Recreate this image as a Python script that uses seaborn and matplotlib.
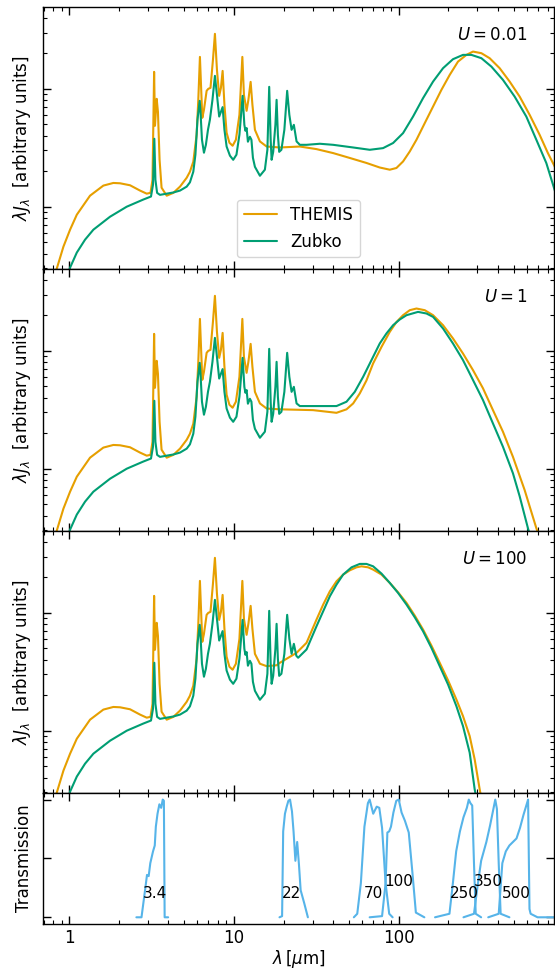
import numpy as np
import pandas as pd
import matplotlib
matplotlib.use("Agg")
import matplotlib.pyplot as plt
import seaborn as sns
from matplotlib.ticker import LogLocator, NullFormatter, FixedLocator, FuncFormatter, NullLocator

# ----------------------
# Data (arbitrary units)
# ----------------------
# near/mid-IR part, identical in the three SED panels
lam_themis_short = [0.789, 0.842, 0.924, 1.014, 1.114, 1.340, 1.614, 1.856, 2.037, 2.343,
                    2.694, 2.958, 3.118, 3.207, 3.28, 3.32, 3.40, 3.46, 3.54, 3.64,
                    3.91, 4.29, 4.71, 5.17, 5.41, 5.67, 5.94, 6.08, 6.22, 6.35,
                    6.43, 6.58, 6.83, 6.99, 7.21, 7.46, 7.67, 7.89, 8.14, 8.34,
                    8.54, 8.76, 9.03, 9.39, 9.82, 10.28, 10.80, 11.25, 11.50, 11.94,
                    12.24, 12.63, 12.95, 13.41]
themis_short = [0.0227, 0.0298, 0.0458, 0.0638, 0.0855, 0.124, 0.151, 0.159, 0.158, 0.152,
                0.137, 0.129, 0.131, 0.169, 1.393, 0.486, 0.823, 0.638, 0.250, 0.145,
                0.124, 0.131, 0.148, 0.176, 0.198, 0.241, 0.408, 0.807, 1.867, 0.889,
                0.568, 0.664, 0.962, 1.0, 1.02, 1.76, 2.93, 1.45, 0.872, 1.02,
                1.42, 0.732, 0.424, 0.349, 0.329, 0.370, 0.602, 1.867, 0.889, 0.651,
                0.807, 1.146, 0.732, 0.449]

lam_zubko_short = [0.959, 1.014, 1.114, 1.250, 1.404, 1.772, 2.238, 2.821, 3.14, 3.23,
                   3.29, 3.34, 3.42, 3.56, 3.91, 4.29, 4.71, 5.17, 5.41, 5.67,
                   5.84, 6.01, 6.20, 6.27, 6.40, 6.58, 6.76, 6.96, 7.15, 7.41,
                   7.67, 7.89, 8.14, 8.34, 8.54, 8.76, 9.03, 9.46, 9.90, 10.36,
                   10.80, 11.29, 11.57, 11.74, 11.94, 12.16, 12.50, 12.77, 13.04, 13.41,
                   14.38, 15.41, 15.96, 16.37, 16.71, 16.93, 17.31, 17.85, 18.15, 18.48,
                   18.82, 19.41, 20.23, 21.04, 21.69, 22.38]
zubko_short = [0.0227, 0.0304, 0.0408, 0.0525, 0.0638, 0.0822, 0.100, 0.115, 0.122, 0.154,
               0.377, 0.169, 0.131, 0.126, 0.129, 0.132, 0.137, 0.148, 0.161, 0.198,
               0.276, 0.546, 0.791, 0.638, 0.370, 0.287, 0.335, 0.449, 0.546, 0.807,
               1.289, 0.889, 0.582, 0.638, 0.700, 0.449, 0.324, 0.271, 0.250, 0.276,
               0.408, 0.872, 0.495, 0.441, 0.465, 0.356, 0.392, 0.370, 0.260, 0.218,
               0.183, 0.206, 0.304, 1.04, 0.370, 0.250, 0.292, 0.495, 0.807, 0.408,
               0.292, 0.304, 0.449, 0.962, 0.602, 0.449]

# far-IR parts, one per radiation field U
lam_themis_u001 = [14.38, 15.79, 19.0, 25.1, 31.7, 40.0, 50.5, 63.7, 76.7, 88.2,
                   96.8, 106.2, 116.6, 128.1, 143.8, 161.5, 181.5, 203.8, 228.8, 257.3,
                   282.1, 317.1, 356.0, 409.5, 470.7, 541.2, 622.3, 715.2, 803.1, 882.0,
                   972.0]
themis_u001 = [0.358, 0.324, 0.318, 0.324, 0.308, 0.285, 0.259, 0.235, 0.215, 0.206,
               0.213, 0.242, 0.294, 0.370, 0.512, 0.708, 0.981, 1.314, 1.703, 1.942,
               2.071, 2.007, 1.820, 1.497, 1.153, 0.860, 0.602, 0.408, 0.285, 0.220,
               0.169]
lam_zubko_u001 = [23.10, 23.99, 25.12, 27.58, 33.2, 40.0, 52.9, 66.7, 80.3, 92.4,
                  106.2, 122.1, 140.4, 161.5, 185.6, 213.3, 245.3, 275.8, 317.1, 364.6,
                  428.6, 504.6, 594.0, 683.3, 785.6, 882.0, 972.0]
zubko_u001 = [0.495, 0.358, 0.335, 0.335, 0.342, 0.335, 0.318, 0.304, 0.314, 0.347,
              0.421, 0.582, 0.834, 1.153, 1.497, 1.785, 1.942, 1.942, 1.820, 1.545,
              1.192, 0.860, 0.582, 0.370, 0.2346, 0.139, 0.0907]

lam_themis_u1 = [14.38, 15.79, 19.0, 30.2, 41.9, 48.2, 52.9, 58.0, 63.7, 69.9,
                 78.6, 88.2, 96.8, 106.2, 116.6, 128.1, 143.8, 161.5, 185.6, 213.3,
                 245.3, 282.1, 324.3, 372.8, 428.6, 492.9, 580.1, 683.3, 715.2]
themis_u1 = [0.358, 0.324, 0.319, 0.314, 0.298, 0.319, 0.358, 0.435, 0.561, 0.782,
             1.081, 1.449, 1.755, 2.007, 2.213, 2.287, 2.213, 2.007, 1.651, 1.274,
             0.949, 0.686, 0.481, 0.314, 0.206, 0.126, 0.066, 0.0313, 0.026]
lam_zubko_u1 = [23.10, 23.99, 25.12, 41.9, 48.2, 54.1, 60.8, 68.3, 76.7, 84.2,
                92.4, 101.4, 111.4, 130.9, 147.2, 161.5, 185.6, 213.3, 245.3, 282.1,
                324.3, 372.8, 428.6, 492.9, 541.2, 607.6, 631.0]
zubko_u1 = [0.495, 0.358, 0.340, 0.340, 0.370, 0.449, 0.602, 0.834, 1.155, 1.404,
            1.651, 1.845, 2.007, 2.141, 2.075, 1.942, 1.548, 1.155, 0.834, 0.565,
            0.382, 0.242, 0.1536, 0.0914, 0.0584, 0.0313, 0.026]

lam_themis_u100 = [14.38, 15.79, 18.15, 19.0, 23.99, 27.58, 31.7, 34.8, 38.2, 41.9,
                   46.0, 50.5, 55.4, 59.4, 65.2, 69.9, 78.6, 88.2, 99.0, 111.4,
                   125.0, 140.4, 157.8, 177.2, 199.0, 223.7, 245.3, 269.3, 288.8, 309.7,
                   318.4]
themis_u100 = [0.370, 0.353, 0.359, 0.377, 0.458, 0.557, 0.877, 1.176, 1.524, 1.852,
               2.112, 2.296, 2.434, 2.483, 2.434, 2.328, 2.112, 1.796, 1.495, 1.215,
               0.949, 0.722, 0.528, 0.377, 0.268, 0.184, 0.133, 0.090, 0.0571, 0.0318,
               0.026]
lam_zubko_u100 = [23.10, 23.92, 24.53, 27.58, 31.7, 34.8, 38.2, 41.9, 46.0, 51.7,
                  58.0, 63.7, 69.9, 78.6, 88.2, 99.0, 111.4, 125.0, 140.4, 157.8,
                  177.2, 199.0, 223.7, 245.3, 269.3, 288.8, 297.0]
zubko_u100 = [0.546, 0.432, 0.416, 0.489, 0.770, 1.032, 1.383, 1.737, 2.112, 2.434,
              2.602, 2.602, 2.483, 2.153, 1.796, 1.477, 1.176, 0.918, 0.698, 0.505,
              0.353, 0.247, 0.1616, 0.1094, 0.0651, 0.0318, 0.026]

u_labels = [r"$U = 0.01$", r"$U = 1$", r"$U = 100$"]

# filter transmission curves
w1_lam = [2.56, 2.75, 2.89, 2.97, 3.04, 3.11, 3.23, 3.31, 3.36, 3.44, 3.53, 3.62, 3.70, 3.76, 3.80, 3.99]
w1_tr = [0, 0, 0.23, 0.36, 0.35, 0.46, 0.56, 0.61, 0.77, 0.88, 0.96, 0.93, 1.0, 0.99, 0, 0]
w4_lam = [18.9, 19.6, 19.9, 20.4, 20.9, 21.4, 21.9, 22.5, 23.0, 23.6, 24.2, 24.8, 25.4, 26.7, 28.1]
w4_tr = [0, 0.01, 0.73, 0.88, 0.94, 0.99, 1.0, 0.9, 0.73, 0.48, 0.64, 0.45, 0.23, 0.12, 0]
p70_lam = [53.4, 56.0, 58.9, 61.9, 65.0, 66.6, 70.0, 73.5, 76.2, 79.2, 83.2, 87.5, 91.8]
p70_tr = [0, 0.03, 0.29, 0.77, 0.97, 1.0, 0.88, 0.94, 0.93, 0.76, 0.29, 0.03, 0]
p100_lam = [66.6, 79.2, 83.2, 85.3, 87.5, 89.7, 92.8, 96.6, 100, 104, 109, 115, 121, 127, 143]
p100_tr = [0, 0.01, 0.29, 0.72, 0.73, 0.77, 0.89, 0.99, 1.0, 0.89, 0.82, 0.72, 0.38, 0.04, 0]
s250_lam = [166, 203, 213, 223, 235, 247, 259, 266, 272, 279, 286, 293, 316]
s250_tr = [0, 0.03, 0.29, 0.56, 0.73, 0.85, 0.93, 1.0, 0.97, 0.95, 0.46, 0.03, 0]
s350_lam = [247, 286, 301, 316, 340, 358, 375, 385, 394, 404, 415, 469]
s350_tr = [0, 0.03, 0.27, 0.48, 0.64, 0.78, 0.92, 1.0, 0.92, 0.46, 0.03, 0]
s500_lam = [349, 404, 425, 446, 469, 518, 544, 571, 600, 609, 621, 631, 695, 882]
s500_tr = [0, 0.03, 0.46, 0.56, 0.61, 0.67, 0.76, 0.87, 0.97, 1.0, 0.07, 0.03, 0, 0]

band_names = ["3.4", "22", "70", "100", "250", "350", "500"]
band_label_x = [3.32, 22.2, 70, 100, 250, 350, 520]
band_label_y = [0.2, 0.2, 0.2, 0.3, 0.2, 0.3, 0.2]

# ----------------------
# Style
# ----------------------
sns.set_style("ticks")
plt.rcParams["font.family"] = ["DejaVu Sans"]
plt.rcParams["mathtext.fontset"] = "dejavusans"
plt.rcParams["font.size"] = 12
for key in ["text.color", "axes.labelcolor", "xtick.color", "ytick.color"]:
    plt.rcParams[key] = "black"

c_themis = "#E69F00"
c_zubko = "#009E73"
c_filter = "#56B4E9"

fig, axes = plt.subplots(4, 1, figsize=(5.55, 9.71), dpi=100, sharex=True,
                         gridspec_kw={"height_ratios": [2, 2, 2, 1], "hspace": 0})
fig.subplots_adjust(left=0.0766, right=0.999, top=0.9928, bottom=0.0484)

tails = [
    (lam_themis_u001, themis_u001, lam_zubko_u001, zubko_u001),
    (lam_themis_u1, themis_u1, lam_zubko_u1, zubko_u1),
    (lam_themis_u100, themis_u100, lam_zubko_u100, zubko_u100),
]

for i, (ax, (lt, t, lz, z)) in enumerate(zip(axes[:3], tails)):
    themis = pd.DataFrame({"lam": lam_themis_short + lt, "flux": themis_short + t})
    zubko = pd.DataFrame({"lam": lam_zubko_short + lz, "flux": zubko_short + z})
    sns.lineplot(data=themis, x="lam", y="flux", ax=ax, color=c_themis, lw=1.5,
                 sort=False, estimator=None, label="THEMIS")
    sns.lineplot(data=zubko, x="lam", y="flux", ax=ax, color=c_zubko, lw=1.5,
                 sort=False, estimator=None, label="Zubko")
    ax.set_xscale("log")
    ax.set_yscale("log")
    ax.set_ylim(0.0296, 4.95)
    ax.yaxis.set_major_locator(LogLocator(base=10))
    ax.yaxis.set_minor_locator(LogLocator(base=10, subs=np.arange(2, 10)))
    ax.yaxis.set_major_formatter(NullFormatter())
    ax.yaxis.set_minor_formatter(NullFormatter())
    ax.set_ylabel(r"$\lambda J_\lambda$  [arbitrary units]", labelpad=3)
    ax.set_xlabel("")
    ax.text(0.947, 0.893, u_labels[i], transform=ax.transAxes, ha="right", va="center", fontsize=12)
    if i == 0:
        ax.legend(loc="lower center", fontsize=12, borderaxespad=0.7)
    else:
        ax.get_legend().remove()

# transmission panel
ax = axes[3]
for fl, ft in [(w1_lam, w1_tr), (w4_lam, w4_tr), (p70_lam, p70_tr), (p100_lam, p100_tr),
               (s250_lam, s250_tr), (s350_lam, s350_tr), (s500_lam, s500_tr)]:
    sns.lineplot(x=fl, y=ft, ax=ax, color=c_filter, lw=1.5, sort=False, estimator=None)
for name, bx, by in zip(band_names, band_label_x, band_label_y):
    ax.text(bx, by, name, ha="center", va="center", fontsize=11)
ax.set_ylim(-0.057, 1.056)
ax.yaxis.set_major_locator(FixedLocator([0, 0.5, 1]))
ax.yaxis.set_minor_locator(NullLocator())
ax.yaxis.set_major_formatter(NullFormatter())
ax.set_ylabel("Transmission", labelpad=3)
ax.set_xscale("log")
ax.set_xlim(0.69, 880)
ax.xaxis.set_major_formatter(FuncFormatter(lambda v, _: f"{v:g}"))
ax.xaxis.set_minor_formatter(NullFormatter())
ax.set_xlabel(r"$\lambda\,[\mu$m$]$", labelpad=1)

for ax in axes:
    ax.tick_params(which="both", direction="in", top=True, right=True, color="black")
    ax.tick_params(which="major", length=6, width=1)
    ax.tick_params(which="minor", length=3, width=0.8)
    for s in ax.spines.values():
        s.set_color("black")
        s.set_linewidth(1)

fig.savefig("out.png", dpi=100)
